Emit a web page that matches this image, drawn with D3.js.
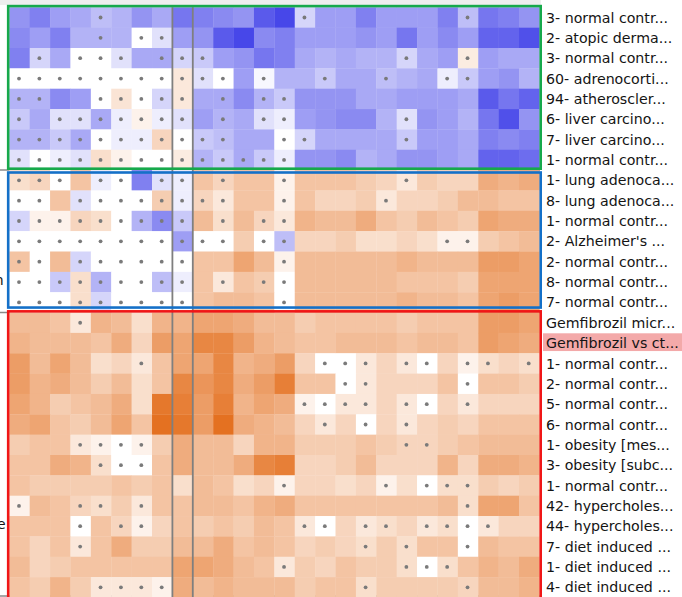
<!DOCTYPE html>
<html>
<head>
<meta charset="utf-8">
<script src="https://cdn.jsdelivr.net/npm/d3@7/dist/d3.min.js"></script>
<style>
  html, body { margin: 0; padding: 0; background: #ffffff; }
  svg { display: block; }
</style>
</head>
<body>
<svg id="chart" width="682" height="597"></svg>
<script>
// Row labels (one per dataset row, top to bottom)
const rowLabels = [
  "3- normal contr...", "2- atopic derma...", "3- normal contr...", "60- adrenocorti...",
  "94- atheroscler...", "6- liver carcino...", "7- liver carcino...", "1- normal contr...",
  "1- lung adenoca...", "8- lung adenoca...", "1- normal contr...", "2- Alzheimer's ...",
  "2- normal contr...", "8- normal contr...", "7- normal contr...",
  "Gemfibrozil micr...", "Gemfibrozil vs ct...", "1- normal contr...", "2- normal contr...",
  "5- normal contr...", "6- normal contr...", "1- obesity [mes...", "3- obesity [subc...",
  "1- normal contr...", "42- hypercholes...", "44- hypercholes...", "7- diet induced ...",
  "1- diet induced ...", "4- diet induced ..."
];

// Row groups: first row index and row count
const groupStarts = [0, 8, 15];
const groupSizes = [8, 7, 14];
const groupColors = ["#16a94b", "#1470c8", "#f01616"];

// Highlighted column and highlighted row
const selectedColumn = 8;
const selectedRow = 16;

// Scaled expression (negative = down / blue, positive = up / orange), 26 columns per row
const rowValues = [
  [-0.45,-0.55,-0.40,-0.35,-0.25,-0.30,-0.45,-0.35,-0.60,-0.55,-0.50,-0.45,-0.75,-0.85,-0.15,-0.40,-0.40,-0.55,-0.40,-0.40,-0.40,-0.55,-0.25,-0.60,-0.55,-0.45],
  [-0.50,-0.40,-0.55,-0.30,-0.30,-0.30, 0.00,-0.10,-0.40,-0.45,-0.75,-0.85,-0.50,-0.55,-0.40,-0.40,-0.40,-0.45,-0.40,-0.60,-0.40,-0.50,-0.40,-0.70,-0.70,-0.80],
  [-0.55,-0.15,-0.35, 0.00, 0.00,-0.10,-0.35,-0.35,-0.15,-0.20,-0.40,-0.45,-0.60,-0.55,-0.35,-0.30,-0.35,-0.30,-0.30,-0.15,-0.35,-0.40, 0.08,-0.40,-0.35,-0.35],
  [ 0.00, 0.00, 0.00, 0.00, 0.00, 0.00, 0.00, 0.00, 0.10,-0.10, 0.00,-0.40,-0.02,-0.30,-0.30,-0.20,-0.35,-0.35,-0.25,-0.30,-0.35,-0.05,-0.20,-0.40,-0.45,-0.30],
  [-0.30,-0.30,-0.50,-0.40, 0.00, 0.12, 0.00,-0.15, 0.10,-0.35,-0.35,-0.50,-0.30,-0.20,-0.45,-0.45,-0.45,-0.35,-0.35,-0.40,-0.40,-0.40,-0.35,-0.75,-0.60,-0.70],
  [-0.20,-0.35,-0.10,-0.10,-0.35,-0.05, 0.05,-0.05,-0.10,-0.40,-0.30,-0.35,-0.10,-0.05,-0.40,-0.45,-0.50,-0.50,-0.30,-0.10,-0.45,-0.40,-0.30,-0.60,-0.80,-0.45],
  [-0.30,-0.30,-0.20,-0.35, 0.00,-0.05,-0.05, 0.20, 0.00,-0.20,-0.25,-0.35,-0.35, 0.00,-0.15,-0.35,-0.35,-0.35,-0.35,-0.20,-0.40,-0.40,-0.35,-0.55,-0.50,-0.55],
  [-0.10, 0.00,-0.05,-0.10, 0.15, 0.05, 0.00, 0.00, 0.08,-0.30,-0.20,-0.35,-0.20,-0.05,-0.45,-0.45,-0.50,-0.30,-0.35,-0.45,-0.45,-0.40,-0.35,-0.70,-0.70,-0.65],
  [ 0.15, 0.20, 0.00, 0.30,-0.05, 0.00,-0.55,-0.10,-0.05, 0.30, 0.20, 0.30, 0.30, 0.05, 0.30, 0.30, 0.30, 0.25, 0.20, 0.10, 0.25, 0.20, 0.20, 0.45, 0.40, 0.45],
  [ 0.00, 0.00, 0.30,-0.10, 0.00, 0.00, 0.00, 0.25,-0.05, 0.20, 0.10, 0.30, 0.30, 0.05, 0.30, 0.20, 0.20, 0.25, 0.10, 0.20, 0.20, 0.25, 0.35, 0.35, 0.30, 0.30],
  [-0.15, 0.05, 0.05, 0.20, 0.15, 0.00,-0.30,-0.50,-0.20, 0.35, 0.15, 0.35, 0.20, 0.10, 0.40, 0.35, 0.35, 0.45, 0.30, 0.25, 0.35, 0.30, 0.25, 0.50, 0.45, 0.45],
  [ 0.00, 0.00, 0.00, 0.00, 0.00, 0.00, 0.00, 0.00,-0.40, 0.00, 0.00, 0.25, 0.00,-0.25, 0.20, 0.20, 0.25, 0.15, 0.15, 0.20, 0.15, 0.05, 0.05, 0.25, 0.30, 0.35],
  [ 0.30, 0.00, 0.35,-0.15, 0.00, 0.00, 0.00, 0.00, 0.00, 0.30, 0.30, 0.50, 0.35, 0.05, 0.35, 0.35, 0.35, 0.35, 0.35, 0.40, 0.35, 0.35, 0.35, 0.55, 0.55, 0.50],
  [ 0.00, 0.00,-0.20, 0.15,-0.30, 0.00, 0.00,-0.25,-0.05, 0.30, 0.10, 0.30, 0.25, 0.00, 0.35, 0.35, 0.35, 0.35, 0.35, 0.30, 0.30, 0.30, 0.25, 0.50, 0.50, 0.50],
  [ 0.00, 0.00, 0.00, 0.15,-0.15, 0.00, 0.00, 0.00, 0.00, 0.30, 0.35, 0.35, 0.30, 0.00, 0.35, 0.35, 0.35, 0.35, 0.35, 0.40, 0.35, 0.35, 0.30, 0.50, 0.55, 0.50],
  [ 0.35, 0.35, 0.30, 0.10, 0.40, 0.35, 0.15, 0.40, 0.40, 0.50, 0.50, 0.45, 0.35, 0.35, 0.25, 0.30, 0.30, 0.30, 0.30, 0.25, 0.30, 0.30, 0.30, 0.55, 0.55, 0.50],
  [ 0.40, 0.35, 0.35, 0.35, 0.30, 0.45, 0.20, 0.55, 0.50, 0.70, 0.70, 0.55, 0.40, 0.35, 0.30, 0.30, 0.35, 0.35, 0.35, 0.30, 0.35, 0.35, 0.30, 0.55, 0.50, 0.45],
  [ 0.55, 0.35, 0.50, 0.35, 0.15, 0.20, 0.10, 0.30, 0.50, 0.50, 0.70, 0.40, 0.45, 0.55, 0.20, 0.00, 0.00, 0.10, 0.20, 0.10, 0.00, 0.20, 0.05, 0.15, 0.20, 0.15],
  [ 0.55, 0.40, 0.45, 0.35, 0.25, 0.35, 0.15, 0.30, 0.70, 0.60, 0.70, 0.45, 0.55, 0.75, 0.30, 0.30, 0.00, 0.10, 0.20, 0.20, 0.20, 0.30, 0.00, 0.30, 0.30, 0.25],
  [ 0.50, 0.40, 0.25, 0.30, 0.35, 0.45, 0.15, 0.80, 0.75, 0.55, 0.75, 0.40, 0.50, 0.45, 0.05, 0.00, 0.10, 0.10, 0.20, 0.10, 0.00, 0.20, 0.10, 0.20, 0.20, 0.20],
  [ 0.45, 0.50, 0.30, 0.25, 0.35, 0.50, 0.30, 0.85, 0.80, 0.55, 0.85, 0.45, 0.40, 0.35, 0.20, 0.10, 0.20, 0.00, 0.20, 0.10, 0.20, 0.25, 0.20, 0.30, 0.30, 0.30],
  [ 0.25, 0.30, 0.30, 0.10, 0.05, 0.00, 0.05, 0.25, 0.45, 0.35, 0.35, 0.20, 0.40, 0.40, 0.25, 0.25, 0.25, 0.30, 0.25, 0.20, 0.20, 0.25, 0.30, 0.35, 0.35, 0.35],
  [ 0.30, 0.30, 0.45, 0.40, 0.15, 0.00, 0.00, 0.30, 0.45, 0.35, 0.35, 0.45, 0.70, 0.75, 0.20, 0.20, 0.25, 0.35, 0.20, 0.20, 0.20, 0.40, 0.20, 0.45, 0.45, 0.40],
  [ 0.30, 0.25, 0.25, 0.25, 0.25, 0.30, 0.25, 0.30, 0.15, 0.35, 0.30, 0.15, 0.20, 0.05, 0.20, 0.20, 0.15, 0.20, 0.05, 0.15, 0.00, 0.15, 0.15, 0.25, 0.20, 0.25],
  [ 0.05, 0.35, 0.30, 0.20, 0.15, 0.25, 0.10, 0.30, 0.30, 0.35, 0.35, 0.30, 0.40, 0.45, 0.30, 0.30, 0.30, 0.30, 0.30, 0.30, 0.30, 0.35, 0.15, 0.50, 0.50, 0.30],
  [ 0.30, 0.30, 0.30, 0.00, 0.30, 0.20, 0.05, 0.20, 0.30, 0.25, 0.30, 0.25, 0.35, 0.30, 0.10, 0.00, 0.20, 0.10, 0.15, 0.20, 0.10, 0.15, 0.00, 0.10, 0.20, 0.20],
  [ 0.30, 0.20, 0.30, 0.10, 0.30, 0.45, 0.25, 0.25, 0.35, 0.35, 0.45, 0.30, 0.35, 0.30, 0.20, 0.25, 0.20, 0.15, 0.25, 0.15, 0.30, 0.30, 0.00, 0.35, 0.30, 0.30],
  [ 0.35, 0.20, 0.25, 0.30, 0.30, 0.30, 0.30, 0.30, 0.50, 0.50, 0.45, 0.35, 0.30, 0.10, 0.25, 0.20, 0.30, 0.25, 0.25, 0.15, 0.00, 0.15, 0.30, 0.40, 0.35, 0.45],
  [ 0.30, 0.25, 0.40, 0.25, 0.10, 0.10, 0.10, 0.05, 0.45, 0.35, 0.40, 0.35, 0.35, 0.35, 0.25, 0.30, 0.30, 0.15, 0.25, 0.25, 0.25, 0.25, 0.20, 0.35, 0.35, 0.40]
];

// Columns flagged as not significant in each row (drawn as a small dot)
const flaggedColumns = [
  [4, 14, 22],
  [4, 6, 7],
  [1, 3, 4, 5, 7, 8, 9, 19, 22],
  [0, 1, 2, 3, 4, 5, 6, 7, 8, 9, 10, 12, 15, 18, 21, 22],
  [0, 1, 4, 5, 6, 7, 8, 10, 12, 13],
  [0, 2, 3, 4, 5, 6, 7, 8, 10, 12, 13, 19],
  [0, 1, 2, 3, 4, 5, 6, 7, 8, 9, 10, 13, 14, 19],
  [0, 1, 2, 3, 4, 5, 6, 7, 8, 9, 10, 11, 12, 13],
  [0, 1, 2, 4, 5, 7, 8, 10, 13, 19],
  [0, 1, 3, 4, 5, 6, 7, 8, 9, 10, 13, 18],
  [0, 1, 2, 3, 4, 5, 6, 7, 8, 10, 12, 13],
  [0, 1, 2, 3, 4, 5, 6, 7, 8, 9, 10, 12, 13, 21, 22],
  [0, 1, 3, 4, 5, 6, 7, 8, 13],
  [0, 1, 2, 3, 4, 5, 6, 7, 8, 10, 12, 13],
  [0, 1, 2, 3, 4, 5, 6, 7, 8, 13],
  [3],
  [],
  [6, 15, 16, 17, 19, 20, 22, 23, 25],
  [16, 17, 22],
  [14, 15, 16, 17, 19, 20, 22],
  [15, 17, 19],
  [3, 4, 5, 6, 19, 20],
  [4, 5, 6],
  [13, 18, 20, 21, 22],
  [0, 3, 4, 6, 22],
  [3, 5, 6, 14, 15, 17, 18, 20, 21, 22, 23],
  [3, 17, 19, 22],
  [13, 19, 20, 21],
  [4, 5, 6, 7, 17, 22]
];

const nCols = rowValues[0].length;
const svg = d3.select("#chart");

const x = d3.scaleBand().domain(d3.range(nCols)).range([9.3, 539.4]);
const y = d3.scaleBand().domain(d3.range(rowLabels.length)).range([7.3, 597.45]);

// Diverging colour: white at zero, blue below, orange above (slight gamma for stronger mid-tones)
const toBlue = d3.interpolateRgb("#ffffff", "#2c2ce6");
const toOrange = d3.interpolateRgb("#ffffff", "#e05c00");
const color = v => {
  const t = Math.min(1, Math.pow(Math.abs(v), 0.85));
  return v < 0 ? toBlue(t) : toOrange(t);
};

// Faint strip of the panel above
svg.append("rect")
  .attr("x", 0).attr("y", 0).attr("width", 541).attr("height", 5)
  .attr("fill", "#eeeeee");

// Group separators (visible only in the left margin; the cells cover the rest)
const sepY = groupStarts.slice(1).map(s => y(s)).concat([y.range()[1] - 1.5]);
svg.append("g").selectAll("line").data(sepY).join("line")
  .attr("x1", 0).attr("x2", 540)
  .attr("y1", d => d).attr("y2", d => d)
  .attr("stroke", "#8a8a8a").attr("stroke-width", 1.5);

// Cells
const cells = [];
rowValues.forEach((row, r) => row.forEach((v, c) => cells.push({ r, c, v })));
svg.append("g").selectAll("rect").data(cells).join("rect")
  .attr("x", d => x(d.c))
  .attr("y", d => y(d.r))
  .attr("width", x.bandwidth() + 0.3)
  .attr("height", y.bandwidth() + 0.3)
  .attr("fill", d => color(d.v));

// Non-significance dots
const dots = [];
flaggedColumns.forEach((cols, r) => cols.forEach(c => dots.push({ r, c })));
svg.append("g").selectAll("circle").data(dots).join("circle")
  .attr("cx", d => x(d.c) + x.bandwidth() / 2 - 0.5)
  .attr("cy", d => y(d.r) + y.bandwidth() / 2)
  .attr("r", 1.9)
  .attr("fill", "#7a7a7a");

// Selected column outline
const colLeft = x(selectedColumn), colRight = x(selectedColumn) + x.bandwidth();
svg.append("g").selectAll("line").data([colLeft, colRight]).join("line")
  .attr("x1", d => d).attr("x2", d => d)
  .attr("y1", y(0)).attr("y2", 597)
  .attr("stroke", "#7f7f7f").attr("stroke-width", 1.8);

// Group frames
const frameTop = [y(0) - 1.2, y(groupStarts[1]) + 2.4, y(groupStarts[2]) - 1.2];
const frameBottom = [y(groupStarts[1]) - 1.4, y(groupStarts[2]) - 5, 620];
svg.append("g").selectAll("rect").data(groupStarts).join("rect")
  .attr("x", 8.2)
  .attr("y", (d, i) => frameTop[i])
  .attr("width", 532.5)
  .attr("height", (d, i) => frameBottom[i] - frameTop[i])
  .attr("fill", "none")
  .attr("stroke", (d, i) => groupColors[i])
  .attr("stroke-width", 2.6);

// Highlight behind the selected row label
svg.append("rect")
  .attr("x", 543).attr("y", y(selectedRow) + 0.4)
  .attr("width", 139).attr("height", y.bandwidth() - 2.6)
  .attr("fill", "#f3a9a9");

// Row labels
svg.append("g").selectAll("text").data(rowLabels).join("text")
  .attr("x", 546)
  .attr("y", (d, i) => y(i) + y.bandwidth() / 2)
  .attr("dy", "0.36em")
  .attr("font-family", "DejaVu Sans, sans-serif")
  .attr("font-size", 14.2)
  .attr("fill", "#141414")
  .text(d => d);

// Ends of labels from the panel on the left
svg.append("g").selectAll("text").data([{ t: "n", row: 13, dx: 3.6 }, { t: "e", row: 25, dx: 5.6 }]).join("text")
  .attr("x", d => d.dx)
  .attr("y", d => y(d.row) + y.bandwidth() / 2 - 2)
  .attr("dy", "0.36em")
  .attr("text-anchor", "end")
  .attr("font-family", "DejaVu Sans, sans-serif")
  .attr("font-size", 14)
  .attr("fill", "#141414")
  .text(d => d.t);
</script>
</body>
</html>
